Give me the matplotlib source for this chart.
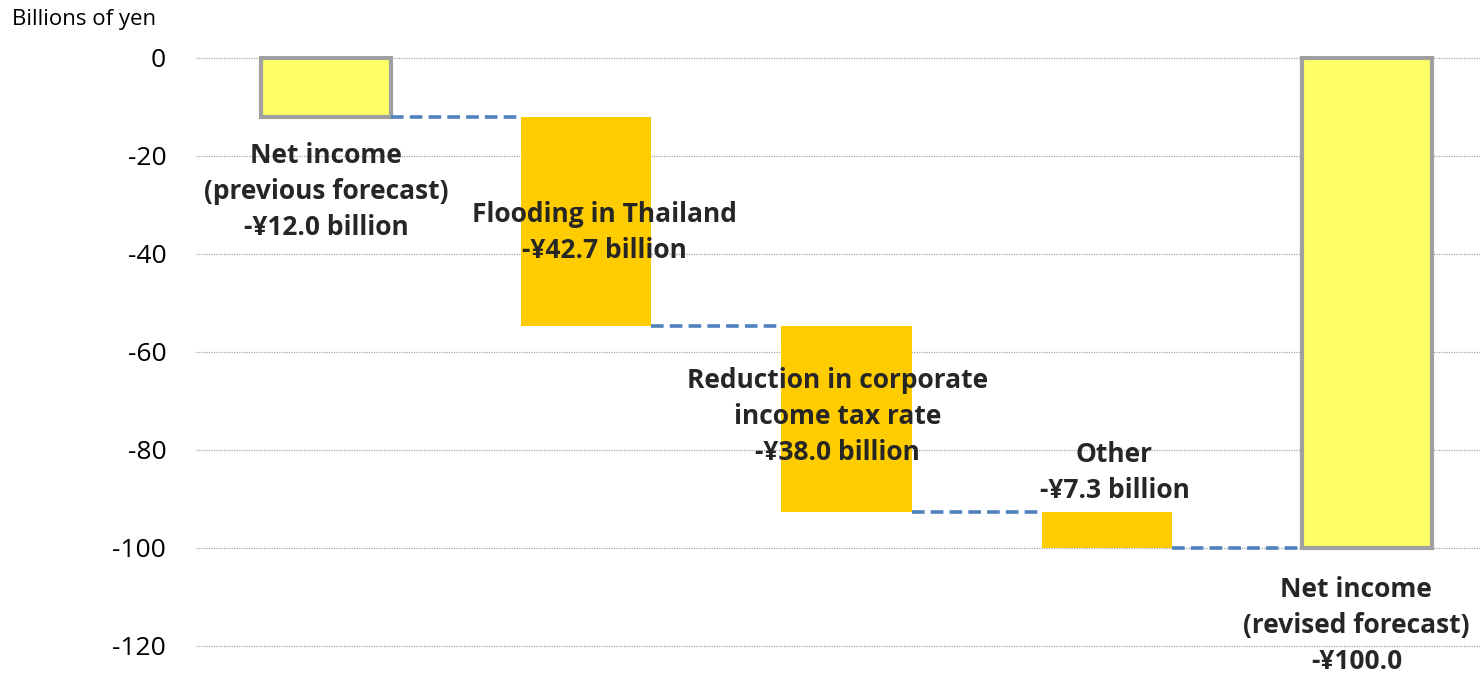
import matplotlib.pyplot as plt
import numpy as np

plt.rcParams["font.family"] = ["Open Sans", "DejaVu Sans"]

# waterfall data (billions of yen)
start_value = -12.0
changes = [-42.7, -38.0, -7.3]
end_value = -100.0
labels = [
    "Net income\n(previous forecast)\n-¥12.0 billion",
    "Flooding in Thailand\n-¥42.7 billion",
    "Reduction in corporate\nincome tax rate\n-¥38.0 billion",
    "Other\n-¥7.3 billion",
    "Net income\n(revised forecast)\n-¥100.0",
]
label_pos = [(0, -27.2), (1.07, -35.6), (1.965, -73.2), (3.03, -84.6), (3.96, -115.8)]
y_ticks = [0, -20, -40, -60, -80, -100, -120]

fig = plt.figure(figsize=(14.8, 6.73), dpi=100)
ax = fig.add_axes([196 / 1480, 1 - 655.8 / 673, 1284 / 1480, (655.8 - 55.5) / 673])

width = 0.5
# totals
ax.bar(0, start_value, width=width, bottom=0, color="#FFFF66",
       edgecolor="#A0A0A0", linewidth=3, zorder=3)
ax.bar(4, end_value, width=width, bottom=0, color="#FFFF66",
       edgecolor="#A0A0A0", linewidth=3, zorder=3)

# step bars
levels = [start_value]
for i, c in enumerate(changes):
    ax.bar(i + 1, c, width=width, bottom=levels[-1], color="#FFCC00",
           linewidth=0, zorder=3)
    levels.append(levels[-1] + c)

# connectors
for i, lv in enumerate(levels):
    ax.plot([i + width / 2, i + 1 - width / 2], [lv, lv], color="#4F81BD",
            linestyle=(0, (3.5, 1.7)), linewidth=2.6, zorder=4)

for (x, y), txt in zip(label_pos, labels):
    ax.text(x, y, txt, ha="center", va="center", fontsize=19,
            fontweight="bold", color="#262626", linespacing=1.42, zorder=5)

ax.set_xlim(-0.5, 4.435)
ax.set_ylim(-122, 0.5)
ax.set_yticks(y_ticks)
ax.set_yticklabels([str(t) for t in y_ticks])
ax.set_xticks([])
ax.tick_params(axis="y", length=0, pad=21.5, labelsize=19, colors="#000000")
ax.yaxis.grid(True, color="#A6A6A6", linestyle=(0, (1, 1)), linewidth=0.9)
ax.set_axisbelow(True)
for s in ax.spines.values():
    s.set_visible(False)

fig.text(12 / 1480, 1 - 20 / 673, "Billions of yen", ha="left", va="center",
         fontsize=16, color="#000000")

fig.savefig("out.png", dpi=100)
plt.close(fig)
